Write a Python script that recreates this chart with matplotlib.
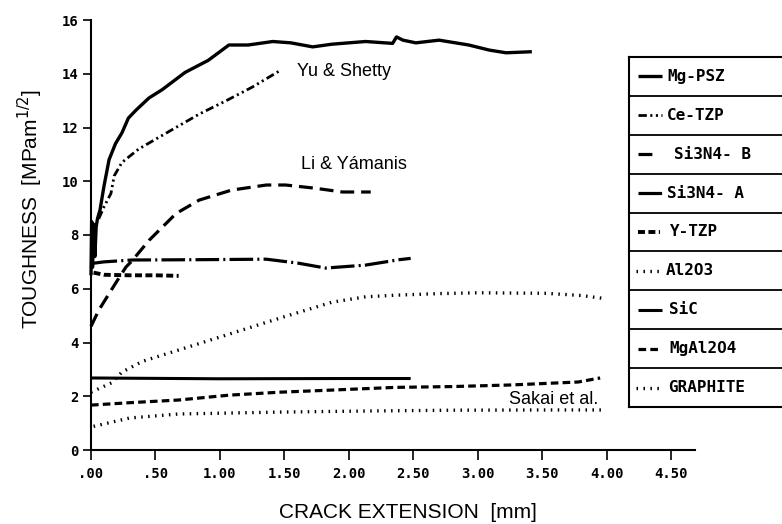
import matplotlib
matplotlib.use("Agg")
import matplotlib.pyplot as plt
from matplotlib.lines import Line2D

plt.rcParams['lines.scale_dashes'] = False

# ---------------- data (crack extension [mm], toughness [MPa m^1/2]) -------------
mgpsz_x = [0.0, 0.005, 0.012, 0.02, 0.03, 0.04, 0.05, 0.07, 0.10, 0.14, 0.19, 0.24, 0.29, 0.35,
           0.45, 0.55, 0.73, 0.91, 1.07, 1.22, 1.41, 1.55, 1.72, 1.87, 2.13, 2.34, 2.37, 2.42,
           2.52, 2.70, 2.93, 3.09, 3.22, 3.42]
mgpsz_y = [6.5, 8.5, 6.8, 8.4, 7.2, 8.3, 8.6, 8.93, 9.8, 10.8, 11.4, 11.8, 12.35, 12.65,
           13.1, 13.4, 14.05, 14.5, 15.07, 15.07, 15.2, 15.15, 15.0, 15.1, 15.2, 15.13, 15.37, 15.25,
           15.15, 15.25, 15.07, 14.88, 14.78, 14.82]

cetzp_x = [0.06, 0.10, 0.155, 0.18, 0.24, 0.37, 0.55, 0.84, 1.05, 1.25, 1.46]
cetzp_y = [8.6, 9.04, 9.55, 10.2, 10.7, 11.2, 11.7, 12.5, 13.0, 13.5, 14.1]

si3n4b_x = [0.0, 0.06, 0.19, 0.27, 0.32, 0.45, 0.66, 0.84, 1.09, 1.36, 1.51, 1.74, 1.95, 2.17]
si3n4b_y = [4.6, 5.2, 6.2, 6.8, 7.05, 7.8, 8.8, 9.3, 9.67, 9.86, 9.86, 9.74, 9.6, 9.6]

si3n4a_x = [0.02, 0.10, 0.32, 0.80, 1.36, 1.61, 1.82, 2.13, 2.39, 2.48]
si3n4a_y = [6.95, 7.0, 7.07, 7.08, 7.1, 6.95, 6.77, 6.88, 7.08, 7.13]

ytzp_x = [0.02, 0.10, 0.30, 0.50, 0.68]
ytzp_y = [6.6, 6.52, 6.5, 6.5, 6.48]

al2o3_x = [0.0, 0.16, 0.24, 0.40, 0.68, 1.09, 1.46, 1.87, 2.13, 2.36, 2.70, 3.00, 3.53, 3.80, 3.96]
al2o3_y = [2.15, 2.5, 2.9, 3.3, 3.72, 4.34, 4.9, 5.5, 5.7, 5.76, 5.82, 5.85, 5.83, 5.75, 5.65]

sic_x = [0.0, 1.0, 2.0, 2.48]
sic_y = [2.68, 2.65, 2.66, 2.66]

mgal2o4_x = [0.0, 0.30, 0.68, 1.07, 1.46, 1.87, 2.36, 2.80, 3.26, 3.78, 3.95]
mgal2o4_y = [1.67, 1.76, 1.86, 2.04, 2.15, 2.23, 2.33, 2.36, 2.42, 2.53, 2.68]

graphite_x = [0.02, 0.30, 0.68, 1.46, 2.13, 2.80, 3.50, 3.96]
graphite_y = [0.88, 1.19, 1.34, 1.41, 1.45, 1.48, 1.49, 1.49]

x_ticks = [0.0, 0.5, 1.0, 1.5, 2.0, 2.5, 3.0, 3.5, 4.0, 4.5]
x_tick_labels = [".00", ".50", "1.00", "1.50", "2.00", "2.50", "3.00", "3.50", "4.00", "4.50"]
y_ticks = [0, 2, 4, 6, 8, 10, 12, 14, 16]
y_tick_labels = ["0", "2", "4", "6", "8", "10", "12", "14", "16"]

legend_labels = ["Mg-PSZ", "Ce-TZP", "Si3N4- B", "Si3N4- A", "Y-TZP", "Al2O3", "SiC", "MgAl2O4", "GRAPHITE"]

# ---------------- styles -----------------
K = 'black'
sty = {
    'Mg-PSZ':  dict(lw=2.4, ls='-'),
    'Ce-TZP':  dict(lw=2.0, ls=(0, (6, 2.5, 1.5, 2.5, 1.5, 2.5))),
    'Si3N4-B': dict(lw=2.3, ls=(0, (10, 5))),
    'Si3N4-A': dict(lw=2.3, ls=(0, (17, 3, 1.5, 3))),
    'Y-TZP':   dict(lw=2.8, ls=(0, (5, 2.5))),
    'Al2O3':   dict(lw=2.4, ls=(0, (1.1, 3.9))),
    'SiC':     dict(lw=2.2, ls='-'),
    'MgAl2O4': dict(lw=2.3, ls=(0, (5.5, 3))),
    'GRAPHITE': dict(lw=2.4, ls=(0, (1.1, 3.9))),
}

W, H = 782, 524
fig = plt.figure(figsize=(W / 100, H / 100), dpi=100)
fig.patch.set_facecolor('white')

ax_l, ax_r, ax_t, ax_b = 91, 695, 20, 450
ax = fig.add_axes([ax_l / W, 1 - ax_b / H, (ax_r - ax_l) / W, (ax_b - ax_t) / H])
ax.set_xlim(0, (ax_r - ax_l) / 128.9)
ax.set_ylim(0, 16)

series = [
    (mgpsz_x, mgpsz_y, 'Mg-PSZ'),
    (cetzp_x, cetzp_y, 'Ce-TZP'),
    (si3n4b_x, si3n4b_y, 'Si3N4-B'),
    (si3n4a_x, si3n4a_y, 'Si3N4-A'),
    (ytzp_x, ytzp_y, 'Y-TZP'),
    (al2o3_x, al2o3_y, 'Al2O3'),
    (sic_x, sic_y, 'SiC'),
    (mgal2o4_x, mgal2o4_y, 'MgAl2O4'),
    (graphite_x, graphite_y, 'GRAPHITE'),
]
for xs, ys, key in series:
    ax.plot(xs, ys, color=K, linewidth=sty[key]['lw'], linestyle=sty[key]['ls'],
            solid_capstyle='butt', dash_capstyle='butt', clip_on=False)

for s in ['top', 'right']:
    ax.spines[s].set_visible(False)
for s in ['left', 'bottom']:
    ax.spines[s].set_linewidth(1.5)

tick_font = dict(family='DejaVu Sans Mono', weight='bold', size=10)
ax.set_xticks(x_ticks)
ax.set_xticklabels(x_tick_labels, fontdict=tick_font)
ax.set_yticks(y_ticks)
ax.set_yticklabels(y_tick_labels, fontdict=tick_font)
ax.tick_params(axis='x', direction='out', length=7, width=1.2, pad=5)
ax.tick_params(axis='y', direction='out', length=6, width=1.2, pad=3)

ann_font = dict(family='Liberation Sans', size=13)
ax.text(1.60, 14.1, "Yu & Shetty", ha='left', va='center', **ann_font)
ax.text(1.63, 10.64, "Li & Yámanis", ha='left', va='center', **ann_font)
ax.text(3.24, 1.87, "Sakai et al.", ha='left', va='center', **ann_font)

fig.text(408 / W, 1 - 512 / H, "CRACK EXTENSION  [mm]", ha='center', va='center',
         family='Liberation Sans', size=15)
fig.text(30 / W, 1 - 209 / H, "TOUGHNESS  [MPam$^{1/2}$]", ha='center', va='center',
         rotation=90, family='Liberation Sans', size=15)

# ---------------- legend box -----------------
lg_l, lg_r, lg_t, lg_b = 629, 790, 57, 407
lax = fig.add_axes([lg_l / W, 1 - lg_b / H, (lg_r - lg_l) / W, (lg_b - lg_t) / H])
lax.set_xlim(lg_l, lg_r)
lax.set_ylim(lg_b, lg_t)
lax.set_xticks([])
lax.set_yticks([])
lax.set_facecolor('white')
lax.spines['right'].set_visible(False)
for s in ['left', 'top', 'bottom']:
    lax.spines[s].set_linewidth(1.5)
lax.set_zorder(5)

nrow = len(legend_labels)
row_h = (lg_b - lg_t) / nrow
keys = ['Mg-PSZ', 'Ce-TZP', 'Si3N4-B', 'Si3N4-A', 'Y-TZP', 'Al2O3', 'SiC', 'MgAl2O4', 'GRAPHITE']
sample_x = {
    'Mg-PSZ': (638, 662), 'Ce-TZP': (638, 662), 'Si3N4-B': (638, 656), 'Si3N4-A': (638, 662),
    'Y-TZP': (638, 660), 'Al2O3': (636, 663), 'SiC': (638, 662), 'MgAl2O4': (638, 660),
    'GRAPHITE': (636, 663),
}
text_x = {
    'Mg-PSZ': 667, 'Ce-TZP': 667, 'Si3N4-B': 674, 'Si3N4-A': 667, 'Y-TZP': 670,
    'Al2O3': 666, 'SiC': 669, 'MgAl2O4': 669, 'GRAPHITE': 668,
}
for i, (lab, key) in enumerate(zip(legend_labels, keys)):
    yc = lg_t + (i + 0.5) * row_h
    if i > 0:
        lax.plot([lg_l, lg_r], [lg_t + i * row_h] * 2, color=K, lw=1.3)
    x0, x1 = sample_x[key]
    lax.add_line(Line2D([x0, x1], [yc, yc], color=K, linewidth=sty[key]['lw'],
                        linestyle=sty[key]['ls'], solid_capstyle='butt', dash_capstyle='butt'))
    lax.text(text_x[key], yc, lab, ha='left', va='center', family='DejaVu Sans Mono',
             weight='bold', size=11.5)

fig.savefig('out.png', dpi=100)
